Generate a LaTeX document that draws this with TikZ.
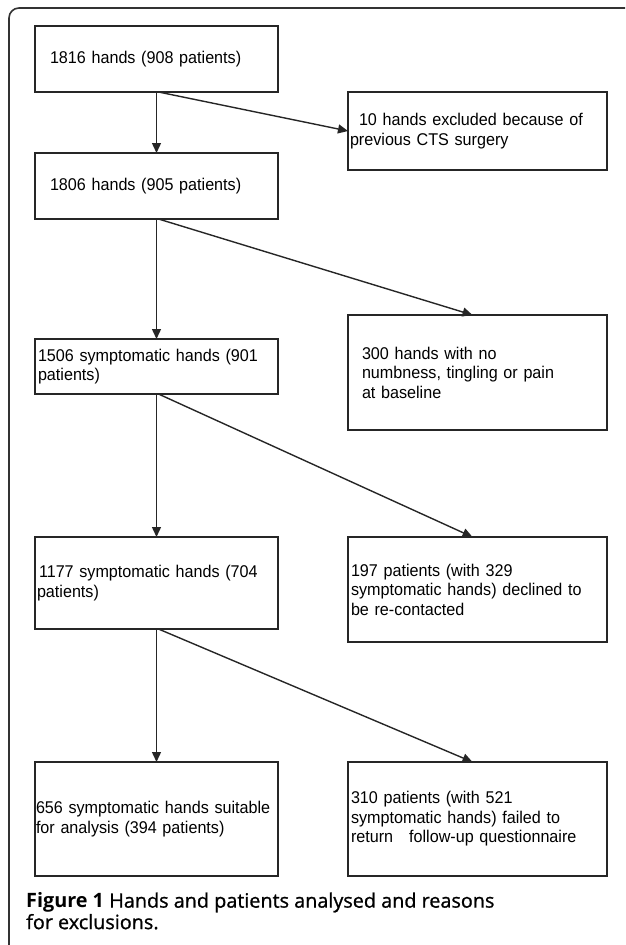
\documentclass[tikz,border=0pt]{standalone}
\usepackage{fontspec}
\setmainfont{Liberation Sans}[FakeStretch=0.95]
\newfontfamily\capfont{Open Sans}
\newfontfamily\capsemi{Open Sans}[FakeBold=1.0]
\usetikzlibrary{arrows.meta}
\begin{document}
\begin{tikzpicture}[x=1pt,y=-1pt,
  box/.style={draw=black!85, line width=1.5pt, anchor=north west, align=left,
    inner ysep=0pt, outer sep=0pt, font=\fontsize{17}{19.5}\selectfont},
  lbox/.style={box, minimum width=243pt},
  rbox/.style={box, minimum width=259pt},
  arr/.style={draw=black!85, line width=1.4pt, -{Triangle[length=10pt,width=9pt]}},
  frame/.style={draw=black!80, line width=1.6pt, rounded corners=10pt}]
\useasboundingbox (0,0) rectangle (625,945);
\draw[frame] (625,8) -- (9,8) -- (9,945);

\node[lbox, minimum height=66pt, text width=213pt, inner xsep=15pt] (b1) at (35,26)
  {1816 hands (908 patients)};
\node[lbox, minimum height=66pt, text width=213pt, inner xsep=15pt] (b2) at (35,153)
  {1806 hands (905 patients)};
\node[lbox, minimum height=55pt, text width=237pt, inner xsep=3pt] (b3) at (35,339)
  {1506 symptomatic hands (901\\patients)};
\node[lbox, minimum height=92pt, text width=239pt, inner xsep=2pt] (b4) at (35,537)
  {\hspace{2pt}1177 symptomatic hands (704\\patients)};
\node[lbox, minimum height=114pt, text width=241pt, inner xsep=1pt] (b5) at (35,762)
  {656 symptomatic hands suitable\\for analysis (394 patients)};

\node[rbox, minimum height=78pt, text width=255pt, inner xsep=2pt] (r1) at (348,92)
  {\hspace{9pt}10 hands excluded because of\\previous CTS surgery};
\node[rbox, minimum height=115pt, text width=231pt, inner xsep=14pt] (r2) at (348,315)
  {300 hands with no\\numbness, tingling or pain\\at baseline};
\node[rbox, minimum height=105pt, text width=253pt, inner xsep=3pt] (r3) at (348,537)
  {197 patients (with 329\\symptomatic hands) declined to\\be re-contacted};
\node[rbox, minimum height=114pt, text width=253pt, inner xsep=3pt] (r4) at (348,762)
  {310 patients (with 521\\symptomatic hands) failed to\\return\hspace{16pt}follow-up questionnaire};

\draw[arr] (b1.south) -- (b2.north);
\draw[arr] ([xshift=2pt]b1.south) -- (r1.west);
\draw[arr] (b2.south) -- (b3.north);
\draw[arr] ([xshift=2pt]b2.south) -- ([xshift=-5pt]r2.north);
\draw[arr] (b3.south) -- (b4.north);
\draw[arr] ([xshift=2pt]b3.south) -- ([xshift=-5pt]r3.north);
\draw[arr] (b4.south) -- (b5.north);
\draw[arr] ([xshift=2pt]b4.south) -- ([xshift=-5pt]r4.north);

\node[anchor=west, align=left, inner sep=0pt,
  font=\fontsize{19.8}{21.5}\selectfont] (cap) at (26,911)
  {{\capfont\bfseries Figure 1} {\capsemi Hands and patients analysed and reasons}\\
   {\capsemi for exclusions.}};
\end{tikzpicture}
\end{document}
